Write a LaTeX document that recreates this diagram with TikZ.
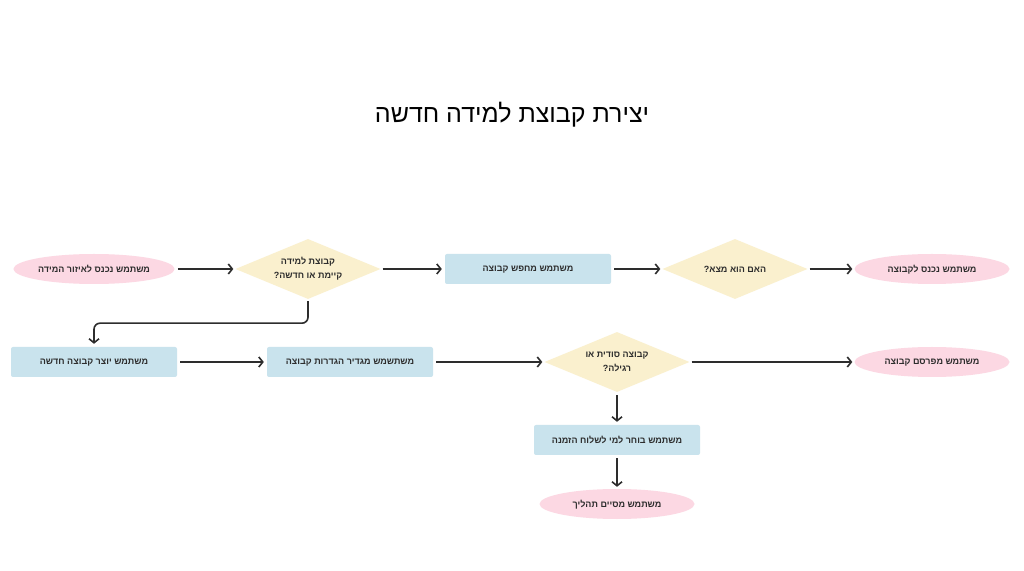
\documentclass[tikz,border=0pt]{standalone}
\usepackage{fontspec}
\setmainfont{Liberation Sans}
\newfontfamily\hebfont[Script=Hebrew,BoldFont={Liberation Sans Bold}]{Liberation Sans}
\TeXXeTstate=1
\usepackage{tikz}
\usetikzlibrary{shapes.geometric,arrows.meta,positioning}
\definecolor{pinkfill}{RGB}{252,216,227}
\definecolor{bluefill}{RGB}{201,227,237}
\definecolor{yellowfill}{RGB}{250,240,206}
\definecolor{linegray}{RGB}{45,45,45}
\newcommand{\hebline}[1]{\beginR #1\endR}
\tikzstyle{startstop} = [ellipse, minimum width=155pt, minimum height=30pt, inner sep=1pt, text depth=1pt, fill=pinkfill, text=linegray, font=\hebfont\bfseries\fontsize{9}{11}\selectfont]
\tikzstyle{process} = [rectangle, rounded corners=2pt, minimum width=166pt, minimum height=30pt, text depth=1pt, fill=bluefill, text=linegray, font=\hebfont\bfseries\fontsize{9}{11}\selectfont]
\tikzstyle{decision} = [diamond, shape aspect=2.4, minimum width=145pt, minimum height=60pt, inner sep=0pt, align=center, fill=yellowfill, text=linegray, font=\hebfont\bfseries\fontsize{9}{14}\selectfont]
\tikzstyle{arrow} = [line width=1.6pt,->,>={Straight Barb[length=4pt,width=10pt]},draw=linegray]

\begin{document}
\begin{tikzpicture}[x=1pt,y=1pt]
        \useasboundingbox[fill=white] (0,0) rectangle (1024,570);
        \node[font=\hebfont\fontsize{25}{30}\selectfont] (title) at (512,455) {\hebline{יצירת קבוצת למידה חדשה}};
        % upper row
        \node[startstop] (enter) at (94,301) {\hebline{משתמש נכנס לאיזור המידה}};
        \node[decision] (exists) at (308,301) {\hebline{קבוצת למידה}\\\hebline{קיימת או חדשה?}};
        \node[process] (search) at (528,301) {\hebline{משתמש מחפש קבוצה}};
        \node[decision] (found) at (735,301) {\hebline{האם הוא מצא?}};
        \node[startstop] (join) at (932,301) {\hebline{משתמש נכנס לקבוצה}};
        % lower row
        \node[process] (create) at (94,208) {\hebline{משתמש יוצר קבוצה חדשה}};
        \node[process] (settings) at (350,208) {\hebline{משתשמש מגדיר הגדרות קבוצה}};
        \node[decision] (secret) at (617,208) {\hebline{קבוצה סודית או}\\\hebline{רגילה?}};
        \node[startstop] (publish) at (932,208) {\hebline{משתמש מפרסם קבוצה}};
        \node[process] (invite) at (617,130) {\hebline{משתמש בוחר למי לשלוח הזמנה}};
        \node[startstop] (finish) at (617,66) {\hebline{משתמש מסיים תהליך}};

        \draw[arrow] ([xshift=3pt]enter.east) -- ([xshift=-2pt]exists.west);
        \draw[arrow] ([xshift=2pt]exists.east) -- ([xshift=-3pt]search.west);
        \draw[arrow] ([xshift=3pt]search.east) -- ([xshift=-2pt]found.west);
        \draw[arrow] ([xshift=2pt]found.east) -- ([xshift=-2pt]join.west);
        \draw[arrow,rounded corners=6pt] ([yshift=-2pt]exists.south) -- ++(0,-22) -| ([yshift=3pt]create.north);
        \draw[arrow] ([xshift=3pt]create.east) -- ([xshift=-3pt]settings.west);
        \draw[arrow] ([xshift=3pt]settings.east) -- ([xshift=-2pt]secret.west);
        \draw[arrow] ([xshift=2pt]secret.east) -- ([xshift=-2pt]publish.west);
        \draw[arrow] ([yshift=-3pt]secret.south) -- ([yshift=3pt]invite.north);
        \draw[arrow] ([yshift=-3pt]invite.south) -- ([yshift=2pt]finish.north);
\end{tikzpicture}
\end{document}
